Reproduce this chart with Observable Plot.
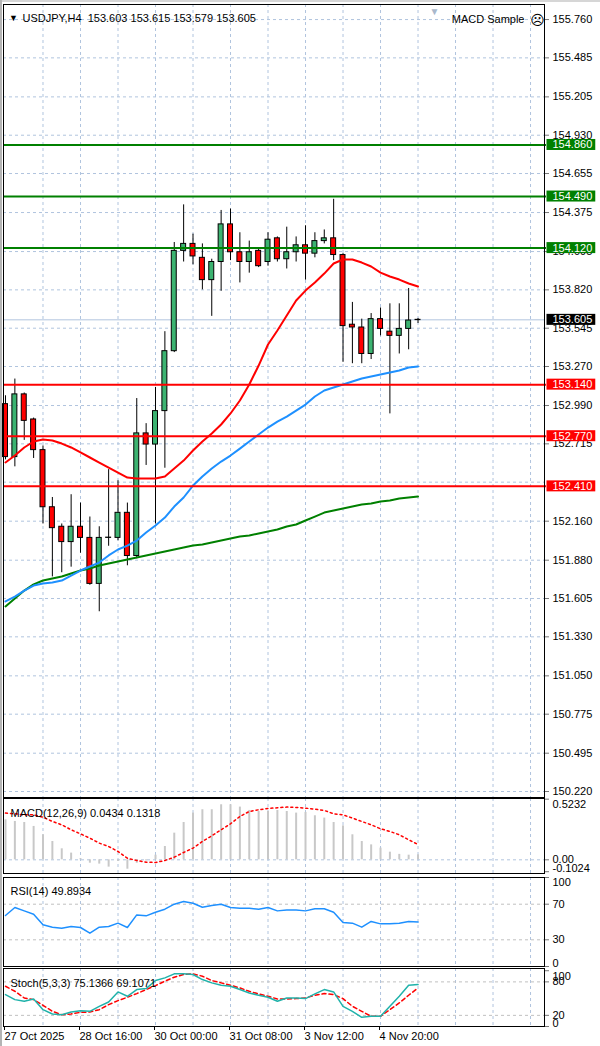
<!DOCTYPE html>
<html><head><meta charset="utf-8">
<script src="https://cdn.jsdelivr.net/npm/d3@7"></script>
<script src="https://cdn.jsdelivr.net/npm/@observablehq/plot@0.6"></script>
<style>
html,body{margin:0;padding:0;background:#fff;}
#wrap{position:relative;width:600px;height:1046px;overflow:hidden;background:#fff;}
#wrap svg{position:absolute;left:0;}
.edgeTop{position:absolute;left:0;top:0;width:600px;height:2px;background:#d6d6d6;}
.edgeLeft{position:absolute;left:0;top:0;width:2px;height:1046px;background:#b4b4b4;}
</style></head><body><div id="wrap"><div class="edgeTop"></div><div class="edgeLeft"></div></div>
<script>
// ---------- data ----------
const symbol = "USDJPY", timeframe = "H4";
const open  = [153.00,152.62,153.07,152.89,152.67,152.26,152.12,152.01,152.12,152.04,151.71,152.040,152.04,152.22,151.91,152.79,152.71,152.95,153.38,154.10,154.15,154.05,153.89,154.02,154.29,154.09,154.02,154.10,154.02,154.19,154.04,154.09,154.14,154.08,154.17,154.19,154.07,153.57,153.55,153.36,153.61,153.52,153.49,153.54,153.603];
const high  = [153.06,153.18,153.08,152.90,152.70,152.33,152.14,152.35,152.29,152.19,152.12,152.53,152.45,152.29,153.04,152.86,153.12,153.52,154.16,154.43,154.22,154.15,154.04,154.39,154.40,154.23,154.17,154.11,154.23,154.20,154.27,154.20,154.28,154.23,154.25,154.47,154.08,153.73,153.61,153.65,153.69,153.72,153.72,153.83,153.615];
const low   = [152.60,152.55,152.74,152.61,152.14,151.76,151.79,151.83,151.93,151.70,151.51,151.98,152.02,151.84,151.89,152.56,152.14,152.54,153.37,154.02,154.00,153.82,153.63,153.81,154.03,153.87,153.94,153.98,153.99,154.02,153.97,154.02,153.89,154.05,154.15,154.03,153.30,153.29,153.29,153.32,153.49,152.93,153.36,153.39,153.579];
const close = [152.62,153.07,152.88,152.67,152.26,152.11,152.01,152.12,152.04,151.71,152.04,152.042,152.22,151.91,152.79,152.71,152.95,153.38,154.10,154.15,154.06,153.89,154.02,154.29,154.09,154.02,154.09,153.99,154.18,154.04,154.09,154.14,154.08,154.17,154.19,154.07,153.56,153.55,153.36,153.61,153.54,153.49,153.54,153.60,153.605];

const maRed   = [152.581,152.631,152.689,152.732,152.746,152.739,152.717,152.689,152.653,152.617,152.581,152.545,152.509,152.473,152.466,152.466,152.466,152.481,152.538,152.595,152.667,152.732,152.789,152.854,152.933,153.026,153.141,153.277,153.428,153.528,153.636,153.744,153.815,153.873,153.937,154.009,154.038,154.038,154.016,153.988,153.944,153.916,153.894,153.866,153.844];
const maBlue  = [151.584,151.619,151.662,151.698,151.713,151.720,151.734,151.770,151.806,151.835,151.863,151.914,151.957,151.985,152.021,152.079,152.129,152.186,152.265,152.330,152.416,152.481,152.538,152.588,152.631,152.681,152.732,152.782,152.832,152.875,152.911,152.954,152.997,153.055,153.098,153.119,153.141,153.162,153.184,153.198,153.213,153.227,153.241,153.263,153.270];
const maGreen = [151.548,151.605,151.662,151.706,151.734,151.749,151.763,151.785,151.806,151.820,151.842,151.856,151.871,151.885,151.899,151.914,151.928,151.942,151.957,151.971,151.985,151.993,152.007,152.021,152.036,152.050,152.057,152.072,152.086,152.100,152.122,152.136,152.165,152.193,152.222,152.237,152.251,152.265,152.280,152.287,152.301,152.308,152.323,152.330,152.337];

const macdHist   = [0.345,0.331,0.322,0.288,0.216,0.158,0.095,0.058,0.010,-0.029,-0.037,-0.063,-0.014,-0.081,-0.030,-0.010,0.040,0.115,0.230,0.322,0.403,0.432,0.432,0.475,0.475,0.455,0.426,0.417,0.417,0.426,0.417,0.403,0.409,0.380,0.360,0.322,0.293,0.216,0.158,0.129,0.101,0.066,0.047,0.040,0.0434];
const macdSignal = [0.403,0.397,0.388,0.388,0.368,0.331,0.302,0.259,0.224,0.187,0.144,0.115,0.072,0.014,-0.006,-0.020,-0.023,-0.006,0.023,0.063,0.101,0.158,0.207,0.259,0.311,0.374,0.417,0.432,0.443,0.449,0.455,0.452,0.446,0.437,0.426,0.397,0.388,0.360,0.331,0.302,0.268,0.245,0.216,0.173,0.1318];
const macdScaleLabels = [0.5232, 0, -0.1024];

const rsi = [57.3,66.3,62.5,58.8,46.8,44.2,43.1,45.0,43.8,37.5,44.2,45.0,48.7,43.8,58.0,56.9,61.0,64.4,70.0,73.0,71.1,66.6,68.5,70.0,66.3,65.5,65.5,64.4,66.3,62.5,63.6,63.6,62.5,64.8,64.8,61.0,49.4,48.7,44.2,50.6,47.9,47.9,48.7,50.6,49.8934];
const rsiLevels = [70, 30];
const rsiScaleLabels = [100, 70, 30, 0];

const stochMain   = [57.2,48.2,45.2,49.4,30.2,22.4,21.2,26.0,28.4,27.2,36.2,44.0,62.0,54.2,66.2,68.0,82.4,87.2,94.4,94.4,93.2,84.2,78.2,74.0,72.2,66.2,60.2,56.0,52.4,45.2,51.2,51.2,50.0,58.4,66.2,62.0,36.2,27.2,16.4,18.2,18.2,36.2,54.2,74.0,75.1366];
const stochSignal = [72.2,63.2,51.2,48.2,38.0,27.2,21.2,22.4,25.4,26.0,30.2,39.2,46.4,52.4,59.0,66.2,73.4,81.2,88.4,93.2,94.4,90.2,82.4,78.2,74.0,69.2,63.2,58.4,54.2,49.4,49.4,50.0,51.2,56.0,59.0,57.2,50.0,36.2,27.2,18.2,18.2,30.2,42.2,56.0,69.1071];
const stochLevels = [80, 20];
const stochScaleLabels = [100, 80, 20, 0];

const priceGrid   = [155.760,155.485,155.205,154.930,154.655,154.375,154.095,153.820,153.545,153.270,152.990,152.715,152.440,152.160,151.880,151.605,151.330,151.050,150.775,150.495,150.220];
const priceLabels = [155.760,155.485,155.205,154.930,154.655,154.375,154.095,153.820,153.545,153.270,152.990,152.715,152.160,151.880,151.605,151.330,151.050,150.775,150.495,150.220];
const resistanceLevels = [154.860, 154.490, 154.120];
const supportLevels = [153.140, 152.770, 152.410];
const lastPrice = 153.605;

const gridIndex = [4,8,12,16,20,24,28,32,36,40,44,48,52,56];
const dateTickIndex = [0,8,16,24,32,40];
const dateTickLabels = ["27 Oct 2025","28 Oct 16:00","30 Oct 00:00","31 Oct 08:00","3 Nov 12:00","4 Nov 20:00"];

// ---------- setup ----------
const W = 600, ML = 3, MR = 56;
const xDomain = [-0.213, 57.49];
const FONT = "'Liberation Sans', Arial, 'DejaVu Sans', sans-serif";
const GRID = "#b0c4de";
const BULL = "#3cb371", BEAR = "#ff0000";
const baseStyle = {fontFamily: FONT, fontSize: "11px", background: "transparent", overflow: "visible", color: "#000"};
const last = close.length - 1;
const f3 = d => d.toFixed(3);
const candles = close.map((c, i) => ({i, o: open[i], h: high[i], l: low[i], c}));
const wrap = document.getElementById("wrap");

function place(svg, top) { svg.style.top = top + "px"; wrap.appendChild(svg); return svg; }
function panelLabels(vals, fmt, n) {
  return vals.map((v, k) => Plot.text([v], {
    y: d => d, text: d => fmt(d), frameAnchor: "right", dx: 8, textAnchor: "start",
    lineAnchor: k === 0 ? "top" : (k === n - 1 ? "bottom" : "middle"), dy: k === 0 ? 1 : 0, fill: "#000"
  }));
}

// ---------- main price panel ----------
const main = Plot.plot({
  width: W, height: 800, marginLeft: ML, marginRight: MR, marginTop: 4, marginBottom: 3,
  style: baseStyle,
  x: {domain: xDomain, axis: null},
  y: {domain: [150.177, 155.868]},
  marks: [
    Plot.ruleX(gridIndex, {x: d => d, stroke: GRID, strokeDasharray: "3,3"}),
    Plot.ruleY(priceGrid, {y: d => d, stroke: GRID, strokeDasharray: "3,3"}),
    Plot.ruleY([lastPrice], {y: d => d, stroke: "#b0c4de"}),
    Plot.ruleX(candles, {x: "i", y1: "l", y2: "h", stroke: "#000", strokeWidth: 1}),
    Plot.rect(candles, {x1: d => d.i - 0.5, x2: d => d.i + 0.5, insetLeft: 2.2, insetRight: 2.2,
      y1: "o", y2: "c", fill: d => d.c >= d.o ? BULL : BEAR, stroke: "#000", strokeWidth: 1}),
    Plot.line(maGreen, {x: (d, i) => i, y: d => d, stroke: "#008000", strokeWidth: 2}),
    Plot.line(maBlue, {x: (d, i) => i, y: d => d, stroke: "#1e90ff", strokeWidth: 2}),
    Plot.line(maRed, {x: (d, i) => i, y: d => d, stroke: "#ff0000", strokeWidth: 2}),
    Plot.ruleY(resistanceLevels, {y: d => d, stroke: "#008000", strokeWidth: 2, insetRight: -2}),
    Plot.ruleY(supportLevels, {y: d => d, stroke: "#ff0000", strokeWidth: 2, insetRight: -2}),
    Plot.frame({stroke: "#000"}),
    Plot.axisY(priceLabels, {anchor: "right", tickFormat: f3, tickSize: 4, tickPadding: 4, stroke: "#777", label: null}),
    Plot.text(resistanceLevels, {y: d => d, text: f3, frameAnchor: "right", dx: 8, textAnchor: "start", fill: "#fff"}),
    Plot.text(supportLevels, {y: d => d, text: f3, frameAnchor: "right", dx: 8, textAnchor: "start", fill: "#fff"}),
    Plot.text([lastPrice], {y: d => d, text: f3, frameAnchor: "right", dx: 8, textAnchor: "start", fill: "#fff"}),
    Plot.text(["\u25BC"], {frameAnchor: "top-left", dx: 10, dy: 10, textAnchor: "middle", fontSize: 9, fill: "#000"}),
    Plot.text([`${symbol},${timeframe}\u00a0 ${f3(open[last])} ${f3(high[last])} ${f3(low[last])} ${f3(close[last])}`],
      {frameAnchor: "top-left", dx: 19, dy: 10, textAnchor: "start", fill: "#000"}),
    Plot.text(["\u25BC"], {frameAnchor: "top-right", dx: -110, dy: 3, textAnchor: "middle", fontSize: 10, fill: "#a9b8cc"}),
    Plot.text(["MACD Sample"], {frameAnchor: "top-right", dx: -20, dy: 11, textAnchor: "end", fill: "#000"}),
    Plot.text(["\u2639"], {frameAnchor: "top-right", dx: -7, dy: 11, textAnchor: "middle", fontSize: 14, fill: "#000"})
  ]
});
place(main, 0);

// coloured boxes behind the level labels (matched by their text content)
const boxColor = new Map([
  ...resistanceLevels.map(v => [f3(v), "#008000"]),
  ...supportLevels.map(v => [f3(v), "#ff0000"]),
  [f3(lastPrice), "#000000"]
]);
main.querySelectorAll("text").forEach(t => {
  const col = boxColor.get(t.textContent.trim());
  if (!col) return;
  const b = t.getBBox();
  const r = document.createElementNS("http://www.w3.org/2000/svg", "rect");
  r.setAttribute("x", b.x - 6); r.setAttribute("y", b.y + 0.5);
  r.setAttribute("width", b.width + 9); r.setAttribute("height", b.height - 1);
  r.setAttribute("fill", col);
  r.setAttribute("stroke", "none");
  if (t.getAttribute("transform")) r.setAttribute("transform", t.getAttribute("transform"));
  t.parentNode.insertBefore(r, t);
});

// ---------- MACD panel ----------
const macdPlot = Plot.plot({
  width: W, height: 80, marginLeft: ML, marginRight: MR, marginTop: 2, marginBottom: 3,
  style: baseStyle,
  x: {domain: xDomain, axis: null},
  y: {domain: [-0.118, 0.529]},
  marks: [
    Plot.ruleX(gridIndex, {x: d => d, stroke: GRID, strokeDasharray: "3,3"}),
    Plot.ruleY([0], {stroke: GRID, strokeDasharray: "3,3"}),
    Plot.ruleX(macdHist, {x: (d, i) => i, y1: 0, y2: d => d, stroke: "#c8c8c8", strokeWidth: 2}),
    Plot.line(macdSignal, {x: (d, i) => i, y: d => d, stroke: "#ff0000", strokeWidth: 1.5, strokeDasharray: "2,3"}),
    Plot.frame({stroke: "#000"}),
    Plot.axisY(macdScaleLabels, {anchor: "right", tickFormat: () => "", tickSize: 4, stroke: "#777", label: null}),
    ...panelLabels(macdScaleLabels, d => d === 0 ? "0.00" : d.toFixed(4), macdScaleLabels.length),
    Plot.text([`MACD(12,26,9) ${macdHist[last].toFixed(4)} ${macdSignal[last].toFixed(4)}`],
      {frameAnchor: "top-left", dx: 7, dy: 11, textAnchor: "start", fill: "#000"})
  ]
});
place(macdPlot, 796);

// ---------- RSI panel ----------
const rsiPlot = Plot.plot({
  width: W, height: 92, marginLeft: ML, marginRight: MR, marginTop: 2, marginBottom: 1,
  style: baseStyle,
  x: {domain: xDomain, axis: null},
  y: {domain: [0, 100]},
  marks: [
    Plot.ruleX(gridIndex, {x: d => d, stroke: GRID, strokeDasharray: "3,3"}),
    Plot.ruleY(rsiLevels, {y: d => d, stroke: "#c0c0c0", strokeDasharray: "3,3"}),
    Plot.line(rsi, {x: (d, i) => i, y: d => d, stroke: "#1e90ff", strokeWidth: 1.5}),
    Plot.frame({stroke: "#000"}),
    Plot.axisY(rsiScaleLabels, {anchor: "right", tickFormat: () => "", tickSize: 4, stroke: "#777", label: null}),
    ...panelLabels(rsiScaleLabels, d => String(d), rsiScaleLabels.length),
    Plot.text([`RSI(14) ${rsi[last].toFixed(4)}`],
      {frameAnchor: "top-left", dx: 7, dy: 10, textAnchor: "start", fill: "#000"})
  ]
});
place(rsiPlot, 875);

// ---------- Stochastic panel + time axis ----------
const dateMap = new Map(dateTickIndex.map((d, k) => [d, dateTickLabels[k]]));
const stochPlot = Plot.plot({
  width: W, height: 80, marginLeft: ML, marginRight: MR, marginTop: 2, marginBottom: 20,
  style: baseStyle,
  x: {domain: xDomain},
  y: {domain: [0, 104]},
  marks: [
    Plot.ruleX(gridIndex, {x: d => d, stroke: GRID, strokeDasharray: "3,3"}),
    Plot.ruleY(stochLevels, {y: d => d, stroke: "#c0c0c0", strokeDasharray: "3,3"}),
    Plot.line(stochSignal, {x: (d, i) => i, y: d => d, stroke: "#ff0000", strokeWidth: 1.5, strokeDasharray: "4,3"}),
    Plot.line(stochMain, {x: (d, i) => i, y: d => d, stroke: "#20b2aa", strokeWidth: 1.5}),
    Plot.frame({stroke: "#000"}),
    Plot.axisY(stochScaleLabels, {anchor: "right", tickFormat: () => "", tickSize: 4, stroke: "#777", label: null}),
    ...panelLabels(stochScaleLabels, d => String(d), stochScaleLabels.length),
    Plot.text([`Stoch(5,3,3) ${stochMain[last].toFixed(4)} ${stochSignal[last].toFixed(4)}`],
      {frameAnchor: "top-left", dx: 7, dy: 11, textAnchor: "start", fill: "#000"}),
    Plot.axisX(dateTickIndex, {anchor: "bottom", tickFormat: d => dateMap.get(d), textAnchor: "start",
      tickSize: 4, tickPadding: 2, dx: -1, stroke: "#000", label: null})
  ]
});
place(stochPlot, 966);
</script>
</body></html>
